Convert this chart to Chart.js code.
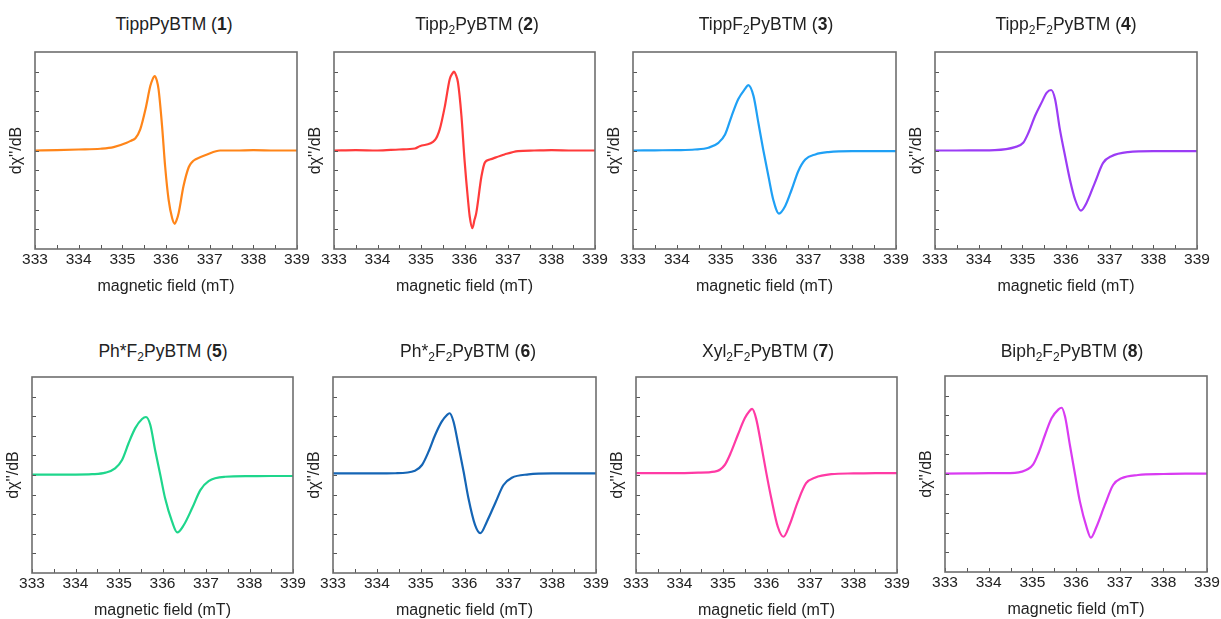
<!DOCTYPE html>
<html>
<head>
<meta charset="utf-8">
<script src="https://cdn.jsdelivr.net/npm/chart.js@4.4.0/dist/chart.umd.min.js"></script>
<style>
  html, body { margin: 0; padding: 0; background: #fff; }
  body { width: 1221px; height: 619px; position: relative; overflow: hidden; font-family: "Liberation Sans", Arial, sans-serif; }
  canvas.panel { position: absolute; }
  .ttl { position: absolute; width: 300px; text-align: center; font-size: 17.5px; line-height: 20px; color: #222; white-space: nowrap; }
  .ttl sub { font-size: 12px; line-height: 0; vertical-align: -4px; }
</style>
</head>
<body>
<script>
// ---------- data ----------
const fieldTicks = [333, 334, 335, 336, 337, 338, 339];
const fieldMinorTicks = [333.5, 334.5, 335.5, 336.5, 337.5, 338.5];
const intensityTicks = [-4, -3, -2, -1, 0, 1, 2, 3, 4];

const names = ['TippPyBTM', 'Tipp<sub>2</sub>PyBTM', 'TippF<sub>2</sub>PyBTM', 'Tipp<sub>2</sub>F<sub>2</sub>PyBTM',
               'Ph*F<sub>2</sub>PyBTM', 'Ph*<sub>2</sub>F<sub>2</sub>PyBTM', 'Xyl<sub>2</sub>F<sub>2</sub>PyBTM', 'Biph<sub>2</sub>F<sub>2</sub>PyBTM'];
const numbers = ['1', '2', '3', '4', '5', '6', '7', '8'];
const colors = ['#ff8519', '#ff3b3b', '#1fa0f5', '#9b3cf5', '#1ed68c', '#1565b5', '#ff3aa5', '#d93bf2'];

const field1  = [333, 333.5, 334, 334.5, 334.8, 335.1, 335.2, 335.3, 335.41, 335.53, 335.64, 335.69, 335.74, 335.79, 335.83, 335.91, 335.98, 336.06, 336.14, 336.2, 336.24, 336.29, 336.4, 336.52, 336.6, 336.67, 336.94, 337.24, 337.6, 338, 338.5, 339];
const signal1 = [0, 0.02, 0.05, 0.09, 0.17, 0.39, 0.5, 0.62, 1.07, 2.09, 3.27, 3.6, 3.78, 3.55, 3.1, 1.24, -0.8, -2.5, -3.43, -3.72, -3.55, -3.17, -1.82, -0.85, -0.58, -0.46, -0.2, 0.0, 0, 0.02, 0, 0];

const field2  = [333, 333.5, 334, 334.5, 334.86, 334.97, 335.32, 335.43, 335.55, 335.66, 335.72, 335.76, 335.8, 335.85, 335.93, 336.0, 336.08, 336.12, 336.18, 336.23, 336.27, 336.39, 336.47, 336.58, 336.92, 337.23, 337.6, 338, 338.5, 339];
const signal2 = [0, 0.02, 0, 0.05, 0.1, 0.22, 0.53, 1.07, 2.26, 3.62, 3.9, 4.0, 3.85, 3.45, 1.75, -0.46, -2.5, -3.35, -3.94, -3.52, -3.18, -1.31, -0.6, -0.46, -0.2, -0.03, 0, 0.02, 0, 0];

const field3  = [333, 333.5, 334, 334.41, 334.72, 334.95, 335.1, 335.25, 335.4, 335.56, 335.63, 335.75, 335.86, 335.97, 336.09, 336.2, 336.33, 336.47, 336.62, 336.77, 336.93, 337.16, 337.46, 338, 338.5, 339];
const signal3 = [0, 0.01, 0.02, 0.05, 0.14, 0.39, 0.81, 1.75, 2.6, 3.14, 3.32, 2.76, 1.41, 0.05, -1.31, -2.5, -3.2, -2.83, -1.98, -1.05, -0.46, -0.2, -0.08, -0.03, -0.03, -0.03];

const field4  = [333, 333.5, 334, 334.37, 334.83, 335.02, 335.14, 335.29, 335.44, 335.56, 335.66, 335.75, 335.86, 335.98, 336.09, 336.21, 336.34, 336.47, 336.66, 336.85, 337.04, 337.42, 338, 338.5, 339];
const signal4 = [0, 0, 0.01, 0.02, 0.17, 0.39, 0.9, 1.75, 2.43, 2.94, 3.07, 2.6, 1.07, -0.29, -1.48, -2.5, -3.05, -2.66, -1.64, -0.63, -0.29, -0.08, -0.03, -0.03, -0.03];

const field5  = [333, 333.5, 334, 334.38, 334.69, 334.91, 335.07, 335.22, 335.37, 335.53, 335.62, 335.72, 335.83, 335.95, 336.06, 336.22, 336.34, 336.49, 336.68, 336.87, 337.06, 337.44, 338, 338.5, 339];
const signal5 = [0.02, 0.02, 0.02, 0.04, 0.12, 0.34, 0.77, 1.62, 2.38, 2.86, 2.96, 2.55, 1.28, 0, -1.19, -2.38, -2.93, -2.55, -1.7, -0.77, -0.31, -0.09, -0.06, -0.05, -0.05];

const field6  = [333, 333.5, 334, 334.42, 334.87, 335.03, 335.18, 335.33, 335.48, 335.6, 335.66, 335.75, 335.86, 335.98, 336.09, 336.24, 336.36, 336.51, 336.7, 336.89, 337.08, 337.46, 338, 338.5, 339];
const signal6 = [0.08, 0.08, 0.08, 0.09, 0.22, 0.51, 1.19, 2.04, 2.72, 3.06, 3.15, 2.72, 1.53, 0.17, -1.19, -2.55, -2.97, -2.38, -1.44, -0.51, -0.14, 0.03, 0.08, 0.08, 0.08];

const field7  = [333, 333.5, 334, 334.43, 334.81, 335.04, 335.19, 335.34, 335.5, 335.61, 335.67, 335.76, 335.88, 335.99, 336.11, 336.26, 336.39, 336.53, 336.72, 336.91, 337.11, 337.49, 338, 338.5, 339];
const signal7 = [0.1, 0.1, 0.1, 0.12, 0.17, 0.51, 1.19, 2.04, 2.89, 3.27, 3.37, 2.89, 1.53, 0.17, -1.19, -2.64, -3.15, -2.55, -1.36, -0.42, -0.14, 0.04, 0.08, 0.1, 0.1];

const field8  = [333, 333.5, 334, 334.37, 334.76, 335.02, 335.14, 335.29, 335.44, 335.6, 335.67, 335.75, 335.86, 335.98, 336.09, 336.25, 336.34, 336.47, 336.66, 336.85, 337.04, 337.42, 338, 338.5, 339];
const signal8 = [0.02, 0.03, 0.04, 0.04, 0.12, 0.49, 1.06, 1.99, 2.84, 3.3, 3.38, 2.92, 1.48, -0.05, -1.41, -2.77, -3.25, -2.69, -1.58, -0.56, -0.22, -0.05, 0, 0.02, 0.02];

const fields = [field1, field2, field3, field4, field5, field6, field7, field8];
const signals = [signal1, signal2, signal3, signal4, signal5, signal6, signal7, signal8];

// ---------- layout (plot-area rectangles & title centres) ----------
const plotRects = [
  {l: 35, t: 52, r: 297, b: 249}, {l: 334, t: 52, r: 595, b: 249},
  {l: 633, t: 52, r: 896, b: 249}, {l: 935, t: 52, r: 1197, b: 249},
  {l: 32, t: 377, r: 293, b: 573}, {l: 333, t: 377, r: 596, b: 573},
  {l: 636, t: 377, r: 897, b: 573}, {l: 945, t: 376, r: 1207, b: 572}
];
const titleCenters = [174, 477, 766, 1066, 163, 468, 768, 1072];
const titleTops = [14, 14, 14, 14, 341, 341, 341, 341];

Chart.defaults.font.family = '"Liberation Sans", Arial, sans-serif';
Chart.defaults.color = '#222';

const AX_W = 40, AX_H = 55, PAD_T = 10, PAD_R = 20;

const framePlugin = {
  id: 'frameTicks',
  afterDatasetsDraw(chart) {
    const {ctx, chartArea: a, scales} = chart;
    ctx.save();
    ctx.strokeStyle = '#555';
    ctx.lineWidth = 1;
    ctx.beginPath();
    fieldTicks.concat(fieldMinorTicks).forEach(v => {
      const px = Math.round(scales.x.getPixelForValue(v)) + 0.5;
      ctx.moveTo(px, a.bottom);
      ctx.lineTo(px, a.bottom - 4);
    });
    intensityTicks.forEach(v => {
      const py = Math.round(scales.y.getPixelForValue(v)) + 0.5;
      ctx.moveTo(a.left, py);
      ctx.lineTo(a.left + 4, py);
    });
    ctx.stroke();
    ctx.strokeStyle = '#6e6e6e';
    ctx.lineWidth = 1.6;
    ctx.strokeRect(a.left, a.top, a.right - a.left, a.bottom - a.top);
    ctx.restore();
  }
};

for (let i = 0; i < 8; i++) {
  const rc = plotRects[i];
  const cv = document.createElement('canvas');
  cv.className = 'panel';
  const w = (rc.r - rc.l) + AX_W + PAD_R;
  const h = (rc.b - rc.t) + PAD_T + AX_H;
  cv.width = w; cv.height = h;
  cv.style.left = (rc.l - AX_W) + 'px';
  cv.style.top = (rc.t - PAD_T) + 'px';
  cv.style.width = w + 'px'; cv.style.height = h + 'px';
  document.body.appendChild(cv);

  const ttl = document.createElement('div');
  ttl.className = 'ttl';
  ttl.style.left = (titleCenters[i] - 150) + 'px';
  ttl.style.top = titleTops[i] + 'px';
  ttl.innerHTML = names[i] + ' (<b>' + numbers[i] + '</b>)';
  document.body.appendChild(ttl);

  const pts = fields[i].map((x, k) => ({x: x, y: signals[i][k]}));

  new Chart(cv, {
    type: 'line',
    data: {
      datasets: [{
        data: pts,
        borderColor: colors[i],
        borderWidth: 2.2,
        pointRadius: 0,
        fill: false,
        cubicInterpolationMode: 'monotone'
      }]
    },
    options: {
      responsive: false,
      animation: false,
      devicePixelRatio: 1,
      layout: {padding: {left: 0, top: PAD_T, right: PAD_R, bottom: 0}},
      plugins: {legend: {display: false}, tooltip: {enabled: false}, title: {display: false}},
      scales: {
        x: {
          type: 'linear', min: 333, max: 339,
          afterBuildTicks: s => { s.ticks = fieldTicks.map(v => ({value: v})); },
          ticks: {font: {size: 15.5}, color: '#222', padding: 1, maxRotation: 0, callback: v => String(v)},
          grid: {display: false, drawTicks: false},
          border: {display: false},
          title: {display: true, text: 'magnetic field (mT)', font: {size: 16}, color: '#222', padding: {top: 0, bottom: 8}},
          afterFit: s => { s.height = AX_H; }
        },
        y: {
          type: 'linear', min: -5, max: 5,
          afterBuildTicks: s => { s.ticks = intensityTicks.map(v => ({value: v})); },
          ticks: {display: false},
          grid: {display: false, drawTicks: false},
          border: {display: false},
          title: {display: true, text: "d\u03C7''/dB", font: {size: 16}, color: '#222', padding: {top: 12, bottom: 0}},
          afterFit: s => { s.width = AX_W; }
        }
      }
    },
    plugins: [framePlugin]
  });
}
</script>
</body>
</html>
